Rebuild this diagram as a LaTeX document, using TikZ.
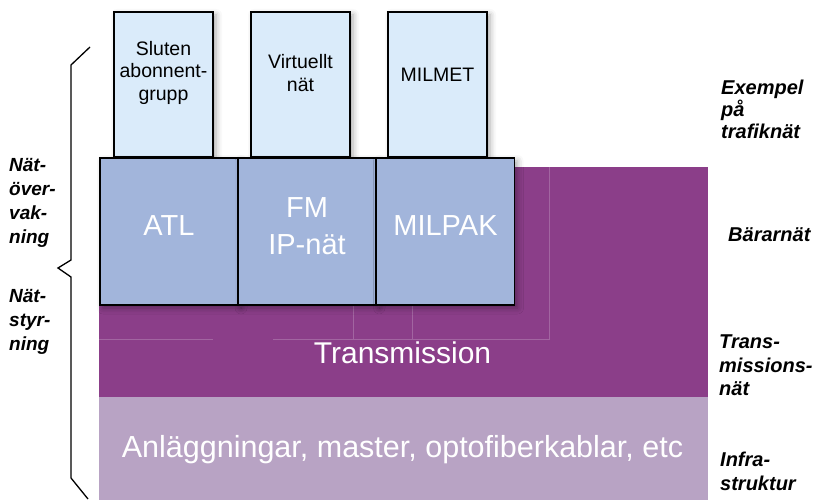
\documentclass[tikz,border=0pt]{standalone}
\usepackage{fontspec}
\setmainfont{Liberation Sans}
\usetikzlibrary{shadows.blur}

\definecolor{trafikblue}{RGB}{218,235,250}
\definecolor{bararblue}{RGB}{162,181,219}
\definecolor{transpurple}{RGB}{139,62,137}
\definecolor{infralilac}{RGB}{184,163,196}

\begin{document}
\begin{tikzpicture}[x=1pt,y=-1pt,
        boxshadow/.style={blur shadow={shadow xshift=3pt,shadow yshift=-3pt,shadow blur radius=6pt,shadow opacity=35}},
        trafikbox/.style={draw=black,line width=1.2pt,fill=trafikblue,inner sep=0pt,
            minimum width=99pt,minimum height=145pt,boxshadow},
        bararbox/.style={draw=black,line width=1.4pt,fill=bararblue,inner sep=0pt,
            minimum width=138pt,minimum height=147pt,boxshadow},
        smalltext/.style={align=center,inner sep=0pt,font=\fontsize{19.5}{22.5}\selectfont},
        bigtext/.style={align=center,inner sep=0pt,text=white,font=\fontsize{29}{37}\selectfont},
        sidetext/.style={align=left,inner sep=0pt,anchor=north west,font=\bfseries\itshape\fontsize{19}{24}\selectfont},
        layertext/.style={align=left,inner sep=0pt,anchor=north west,font=\bfseries\itshape\fontsize{20}{22}\selectfont},
        gridline/.style={draw=transpurple!80!white,line width=0.6pt}]
    \useasboundingbox (0,0) rectangle (819,500);

    % layers
    \fill[infralilac] (99,397) rectangle (708,500);
    \fill[transpurple] (99,167) rectangle (708,397);
    \draw[gridline] (99,339) -- (213,339);
    \draw[gridline] (273,339) -- (549,339) -- (549,167);
    \draw[gridline] (353,305) -- (353,339);
    \draw[gridline] (412,305) -- (412,339);

    \node[bigtext,anchor=base,font=\fontsize{30.5}{37}\selectfont] (infra) at (402.5,457) {Anläggningar, master, optofiberkablar, etc};
    \node[bigtext,anchor=base,font=\fontsize{30}{37}\selectfont] (trans) at (402.5,363) {Transmission};

    % trafiknät
    \node[trafikbox] (sluten) at (163.5,84.5) {};
    \node[trafikbox] (virtuellt) at (300.5,84.5) {};
    \node[trafikbox] (milmet) at (437.5,84.5) {};
    \node[smalltext] (slutentext) at (163.5,72.5) {Sluten\\abonnent-\\grupp};
    \node[smalltext] (virtuelltext) at (300.5,73) {Virtuellt\\nät};
    \node[smalltext] (milmettext) at (437.5,75) {MILMET};

    % bärarnät
    \node[bararbox] (atl) at (169,231.5) {};
    \node[bararbox] (fm) at (307,231.5) {};
    \node[bararbox] (milpak) at (445.5,231.5) {};
    \node[bigtext,anchor=base] (atltext) at (169,235) {ATL};
    \node[bigtext] (fmtext) at (307,226) {FM\\IP-nät};
    \node[bigtext,anchor=base] (milpaktext) at (445.5,235) {MILPAK};

    % brace
    \draw[line width=1.3pt] (90,47) -- (71,65) -- (71,260) -- (58,268)
        -- (71,277) -- (71,478) -- (88,499);

    \node[sidetext] (overvakning) at (9,158.2) {Nät-\\över-\\vak-\\ning};
    \node[sidetext] (styrning) at (9,289.2) {Nät-\\styr-\\ning};

    \node[layertext] (trafiknat) at (721,79.5) {Exempel\\på\\trafiknät};
    \node[layertext] (bararnat) at (728,227.5) {Bärarnät};
    \node[layertext,font=\bfseries\itshape\fontsize{20}{23.5}\selectfont] (transnat) at (719,334.7) {Trans-\\missions-\\nät};
    \node[layertext,font=\bfseries\itshape\fontsize{20}{24.5}\selectfont] (infranat) at (720,451.4) {Infra-\\struktur};
\end{tikzpicture}
\end{document}
